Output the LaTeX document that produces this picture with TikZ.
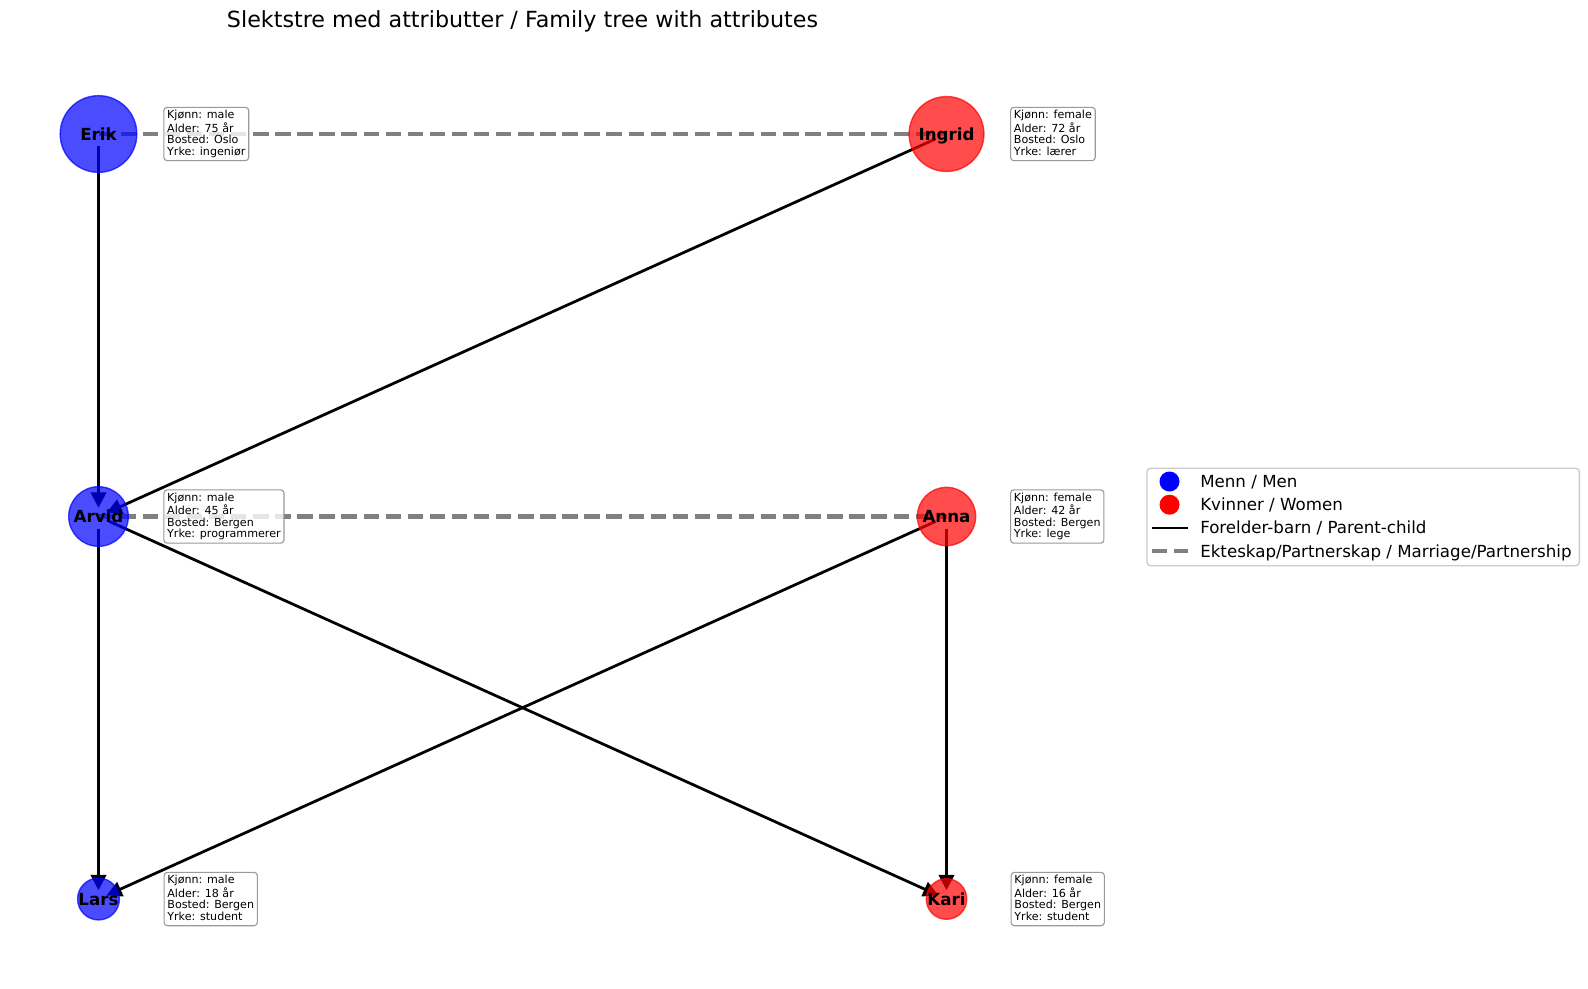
\documentclass[tikz,border=0pt]{standalone}
\usepackage{fontspec}
\setmainfont{DejaVu Sans}
\usetikzlibrary{arrows.meta,calc}
\begin{document}
\begin{tikzpicture}[x=0.72pt,y=-0.72pt,
  personnode/.style={circle, inner sep=0pt, line width=1pt, fill opacity=0.7, draw opacity=0.7},
  malenode/.style={personnode, fill=blue, draw=blue},
  femalenode/.style={personnode, fill=red, draw=red},
  pname/.style={anchor=base, font=\bfseries\fontsize{12pt}{14pt}\selectfont, inner sep=0pt},
  infobox/.style={anchor=west, align=left, font=\fontsize{8pt}{8.4pt}\selectfont, draw=gray, draw opacity=0.8, fill=white, fill opacity=0.8, text opacity=1, rounded corners=2.4pt, inner xsep=2.4pt, inner ysep=2.1pt, line width=0.8pt},
  childedge/.style={draw=black, line width=2pt, shorten <=8.64pt, shorten >=6.3pt, -{Triangle[length=11pt,width=11pt]}},
  partneredge/.style={draw=gray, line width=3pt, dash pattern=on 11.1pt off 4.8pt},
  legtext/.style={anchor=base west, font=\fontsize{12pt}{14pt}\selectfont, inner sep=0pt},
]
\useasboundingbox (0,0) rectangle (1588,989);
\fill[white] (0,0) rectangle (1588,989);

% positions
\coordinate (erik) at (98.5,134);
\coordinate (ingrid) at (946.5,134);
\coordinate (arvid) at (98.5,516.5);
\coordinate (anna) at (946.5,516.5);
\coordinate (lars) at (98.5,899);
\coordinate (kari) at (946.5,899);

% title
\node[anchor=base west, font=\fontsize{16pt}{19pt}\selectfont, inner sep=0pt] (title) at (226.7,27.7) {Slektstre med attributter / Family tree with attributes};

% edges
\draw[partneredge] (erik) -- (ingrid);
\draw[partneredge] (arvid) -- (anna);
\draw[childedge] (erik) -- (arvid);
\draw[childedge] (ingrid) -- (arvid);
\draw[childedge] (arvid) -- (lars);
\draw[childedge] (arvid) -- (kari);
\draw[childedge] (anna) -- (lars);
\draw[childedge] (anna) -- (kari);

% circles
\node[malenode, minimum size=55.2pt] (erikc) at (erik) {};
\node[femalenode, minimum size=53.9pt] (ingridc) at (ingrid) {};
\node[malenode, minimum size=42.9pt] (arvidc) at (arvid) {};
\node[femalenode, minimum size=42.0pt] (annac) at (anna) {};
\node[malenode, minimum size=30.1pt] (larsc) at (lars) {};
\node[femalenode, minimum size=29.2pt] (karic) at (kari) {};

% names
\node[pname] (erikn) at ($(erik)+(0,6)$) {Erik};
\node[pname] (ingridn) at ($(ingrid)+(0,6)$) {Ingrid};
\node[pname] (arvidn) at ($(arvid)+(0,6)$) {Arvid};
\node[pname] (annan) at ($(anna)+(0,6)$) {Anna};
\node[pname] (larsn) at ($(lars)+(0,6)$) {Lars};
\node[pname] (karin) at ($(kari)+(0,6)$) {Kari};

% info boxes
\node[infobox] (erikb) at ($(erik)+(64.8,0)$) {\vphantom{Kj}Kjønn: male\\Alder: 75 år\\Bosted: Oslo\\Yrke: ingeniør\vphantom{gj}};
\node[infobox] (ingridb) at ($(ingrid)+(63.5,0)$) {\vphantom{Kj}Kjønn: female\\Alder: 72 år\\Bosted: Oslo\\Yrke: lærer\vphantom{gj}};
\node[infobox] (arvidb) at ($(arvid)+(64.8,0)$) {\vphantom{Kj}Kjønn: male\\Alder: 45 år\\Bosted: Bergen\\Yrke: programmerer\vphantom{gj}};
\node[infobox] (annab) at ($(anna)+(63.5,0)$) {\vphantom{Kj}Kjønn: female\\Alder: 42 år\\Bosted: Bergen\\Yrke: lege\vphantom{gj}};
\node[infobox] (larsb) at ($(lars)+(65,0)$) {\vphantom{Kj}Kjønn: male\\Alder: 18 år\\Bosted: Bergen\\Yrke: student\vphantom{gj}};
\node[infobox] (karib) at ($(kari)+(64,0)$) {\vphantom{Kj}Kjønn: female\\Alder: 16 år\\Bosted: Bergen\\Yrke: student\vphantom{gj}};

% legend
\draw[rounded corners=2.5pt, draw=black!20, fill=white, fill opacity=0.8, line width=1pt] (1147,468.3) rectangle (1579.3,565.7);
\node[circle, fill=blue, minimum size=14.4pt, inner sep=0pt] (legmen) at (1169.5,481.5) {};
\node[circle, fill=red, minimum size=14.4pt, inner sep=0pt] (legwomen) at (1169.5,504.7) {};
\coordinate (lpa) at (1151.7,527.9);
\coordinate (lpb) at (1187.7,527.9);
\coordinate (lda) at (1151.7,551.1);
\coordinate (ldb) at (1187.7,551.1);
\draw[black, line width=2pt] (lpa) -- (lpb);
\draw[partneredge] (lda) -- (ldb);
\node[legtext] (lt1) at (1200,487.5) {Menn / Men};
\node[legtext] (lt2) at (1200,510.7) {Kvinner / Women};
\node[legtext] (lt3) at (1200,533.9) {Forelder-barn / Parent-child};
\node[legtext] (lt4) at (1200,557.1) {Ekteskap/Partnerskap / Marriage/Partnership};
\end{tikzpicture}
\end{document}
